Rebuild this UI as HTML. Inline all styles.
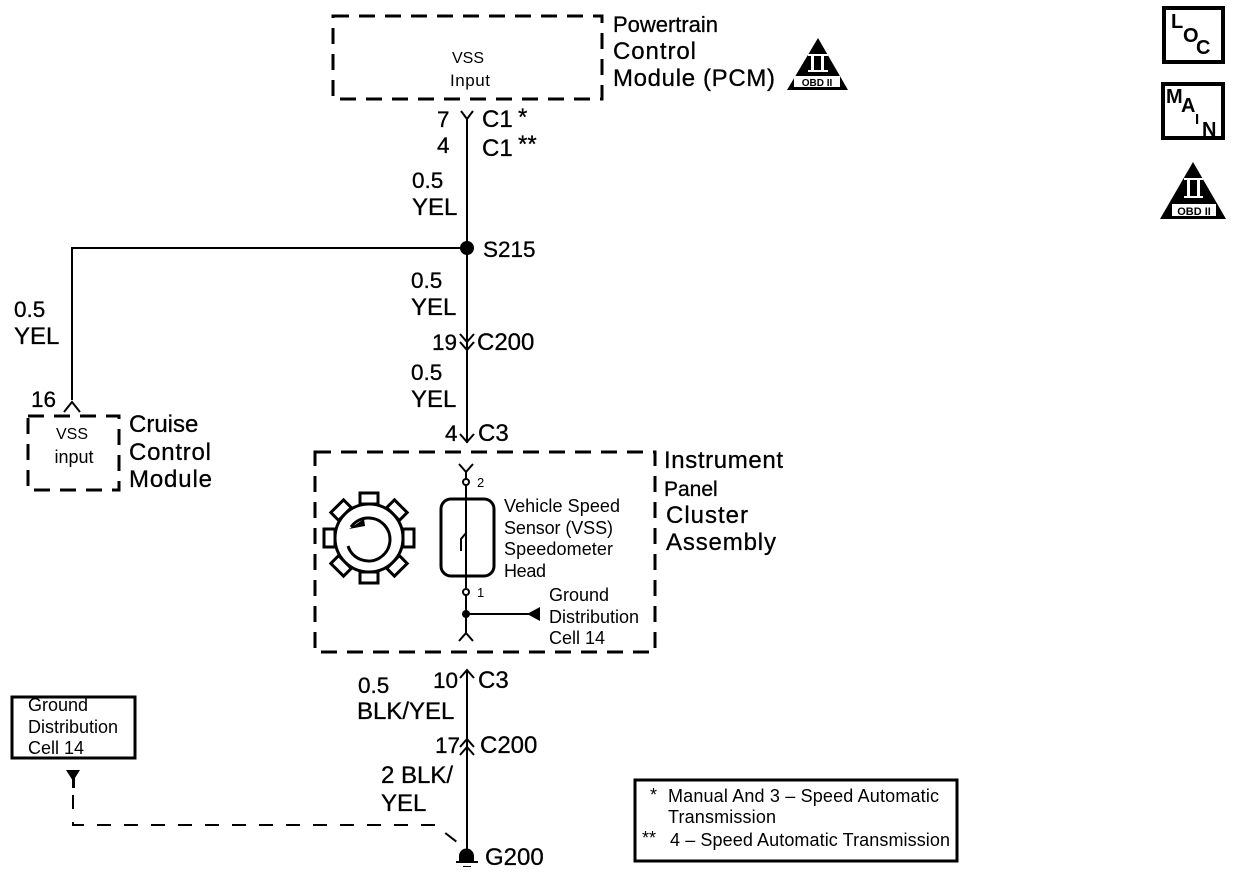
<!DOCTYPE html>
<html lang="en">
<head>
<meta charset="utf-8">
<title>Vehicle speed sensor wiring diagram</title>
<style>
html,body{margin:0;padding:0;background:#fff;width:1248px;height:878px;overflow:hidden}
svg{display:block}
text{font-family:"Liberation Sans",sans-serif;fill:#000}
.l{font-size:24px;stroke:#000;stroke-width:.3}
.n{font-size:22.5px;stroke:#000;stroke-width:.3}
.s{font-size:18px}
.w{stroke:#000;stroke-width:2;fill:none}
.d{stroke:#000;stroke-width:3;fill:none;stroke-dasharray:16 10}
</style>
</head>
<body>
<svg width="1248" height="878" viewBox="0 0 1248 878" xmlns="http://www.w3.org/2000/svg">
<rect x="333" y="16" width="269" height="83" class="d"/>
<text x="468" y="63" text-anchor="middle" font-size="16">VSS</text>
<text x="470" y="86" text-anchor="middle" font-size="17" textLength="40">Input</text>
<text x="613" y="32" class="l" style="font-size:22px" textLength="105">Powertrain</text>
<text x="613" y="59" class="l" textLength="83">Control</text>
<text x="613" y="86" class="l" textLength="162">Module (PCM)</text>
<path d="M818 38L787 90H848Z" fill="#000"/>
<rect x="808" y="54" width="20" height="2" fill="#fff"/><rect x="808" y="70" width="20" height="2" fill="#fff"/>
<rect x="811" y="56" width="3" height="14" fill="#fff"/><rect x="821" y="56" width="3" height="14" fill="#fff"/>
<rect x="794" y="76" width="46" height="11" fill="#fff"/>
<text x="817" y="86" text-anchor="middle" font-size="10" font-weight="bold">OBD II</text>
<rect x="1164" y="8" width="59" height="54" fill="none" stroke="#000" stroke-width="4"/>
<text x="1171" y="28" font-size="20" font-weight="bold">L</text><text x="1183" y="42" font-size="20" font-weight="bold">O</text><text x="1196" y="54" font-size="20" font-weight="bold">C</text>
<rect x="1163" y="84" width="60" height="54" fill="none" stroke="#000" stroke-width="4"/>
<text x="1166" y="103" font-size="20" font-weight="bold">M</text><text x="1181" y="112" font-size="20" font-weight="bold">A</text><text x="1195" y="124" font-size="15" font-weight="bold">I</text><text x="1202" y="136" font-size="20" font-weight="bold">N</text>
<path d="M1193 162L1160 219H1226Z" fill="#000"/>
<rect x="1184" y="178" width="19" height="2" fill="#fff"/><rect x="1184" y="196" width="19" height="2" fill="#fff"/>
<rect x="1187" y="180" width="3" height="16" fill="#fff"/><rect x="1197" y="180" width="3" height="16" fill="#fff"/>
<rect x="1172" y="204" width="44" height="12" fill="#fff"/>
<text x="1194" y="215" text-anchor="middle" font-size="11" font-weight="bold">OBD II</text>
<path class="w" d="M461 111L467 119L473 111M467 119V248"/>
<text x="437" y="127" class="n">7</text><text x="482" y="127" class="l">C1</text><text x="518" y="125" class="l">*</text>
<text x="437" y="153" class="n">4</text><text x="482" y="156" class="l">C1</text><text x="518" y="152" class="l">**</text>
<text x="412" y="188" class="n">0.5</text><text x="412" y="215" class="l">YEL</text>
<circle cx="467" cy="248" r="7" fill="#000"/>
<text x="483" y="257" class="n">S215</text>
<path class="w" d="M467 248H72V400M64 412L72 402L80 412"/>
<text x="14" y="317" class="n">0.5</text><text x="14" y="344" class="l">YEL</text>
<text x="31" y="407" class="n">16</text>
<rect x="28" y="416" width="91" height="74" class="d"/>
<text x="72" y="439" text-anchor="middle" font-size="16">VSS</text>
<text x="74" y="463" text-anchor="middle" font-size="18">input</text>
<text x="129" y="432" class="l">Cruise</text><text x="129" y="460" class="l" textLength="82">Control</text><text x="129" y="487" class="l" textLength="83">Module</text>
<path class="w" d="M467 248V443M460 334L467 342L474 334M460 342L467 350L474 342M460 434L467 442L474 434"/>
<text x="411" y="288" class="n">0.5</text><text x="411" y="315" class="l">YEL</text>
<text x="432" y="350" class="n">19</text><text x="477" y="350" class="l">C200</text>
<text x="411" y="380" class="n">0.5</text><text x="411" y="407" class="l">YEL</text>
<text x="445" y="441" class="n">4</text><text x="478" y="441" class="l">C3</text>
<rect x="315" y="452" width="340" height="200" class="d"/>
<text x="664" y="468" class="l" textLength="119">Instrument</text><text x="664" y="496" class="l" style="font-size:21px">Panel</text>
<text x="666" y="523" class="l" textLength="82">Cluster</text><text x="666" y="550" class="l" textLength="110">Assembly</text>
<path class="w" d="M459 464L466 472L473 464M466 472V479M466 485V588M466 595V634M459 641L466 633L473 641"/>
<circle cx="466" cy="482" r="3" fill="#fff" stroke="#000" stroke-width="2"/>
<circle cx="466" cy="592" r="3" fill="#fff" stroke="#000" stroke-width="2"/>
<text x="477" y="487" font-size="13">2</text><text x="477" y="597" font-size="13">1</text>
<rect x="441" y="499" width="53" height="77" rx="10" fill="none" stroke="#000" stroke-width="3"/>
<path class="w" d="M461 551V539L466 533"/>
<circle cx="466" cy="614" r="4" fill="#000"/>
<path class="w" d="M466 614H530"/><path d="M527 614L540 607V621Z" fill="#000"/>
<text x="504" y="512" class="s" textLength="116">Vehicle Speed</text>
<text x="504" y="534" class="s" textLength="109">Sensor (VSS)</text>
<text x="504" y="555" class="s" textLength="109">Speedometer</text>
<text x="504" y="577" class="s" textLength="42">Head</text>
<text x="549" y="601" class="s" textLength="60">Ground</text>
<text x="549" y="623" class="s" textLength="90">Distribution</text>
<text x="549" y="644" class="s">Cell 14</text>
<g fill="#fff" stroke="#000" stroke-width="3">
<rect x="360" y="493" width="18" height="11"/>
<rect x="360" y="493" width="18" height="11" transform="rotate(45 369 538)"/>
<rect x="360" y="493" width="18" height="11" transform="rotate(90 369 538)"/>
<rect x="360" y="493" width="18" height="11" transform="rotate(135 369 538)"/>
<rect x="360" y="493" width="18" height="11" transform="rotate(180 369 538)"/>
<rect x="360" y="493" width="18" height="11" transform="rotate(225 369 538)"/>
<rect x="360" y="493" width="18" height="11" transform="rotate(270 369 538)"/>
<rect x="360" y="493" width="18" height="11" transform="rotate(315 369 538)"/>
<circle cx="369" cy="538" r="34"/>
</g>
<path d="M351 527A21.5 21.5 0 1 1 348 546" fill="none" stroke="#000" stroke-width="3"/>
<path d="M349 529L364 519L365 526Z" fill="#000"/>
<path class="w" d="M467 670V852M460 678L467 670L474 678M460 747L467 739L474 747M460 755L467 747L474 755"/>
<text x="358" y="693" class="n">0.5</text><text x="357" y="719" class="l">BLK/YEL</text>
<text x="433" y="688" class="n">10</text><text x="478" y="688" class="l">C3</text>
<text x="435" y="753" class="n">17</text><text x="480" y="753" class="l">C200</text>
<text x="381" y="783" class="l">2 BLK/</text><text x="381" y="811" class="l">YEL</text>
<path d="M459 861V856A7.5 7.5 0 0 1 474 856V861Z" fill="#000"/>
<rect x="456" y="861" width="22" height="2" fill="#000"/>
<rect x="463" y="866" width="8" height="1" fill="#000"/>
<text x="485" y="865" class="l">G200</text>
<rect x="12" y="697" width="123" height="61" fill="none" stroke="#000" stroke-width="3"/>
<text x="28" y="711" class="s" textLength="60">Ground</text>
<text x="28" y="733" class="s" textLength="90">Distribution</text>
<text x="28" y="754" class="s">Cell 14</text>
<path d="M66 770H80L73 781Z" fill="#000"/>
<rect x="72" y="778" width="3" height="10" fill="#000"/>
<path d="M73 795V825H435L462 846" fill="none" stroke="#000" stroke-width="2" stroke-dasharray="14 13"/>
<rect x="635" y="780" width="322" height="81" fill="none" stroke="#000" stroke-width="3"/>
<text x="650" y="801" class="s">*</text>
<text x="668" y="802" class="s" textLength="271">Manual And 3 – Speed Automatic</text>
<text x="668" y="823" class="s" textLength="108">Transmission</text>
<text x="642" y="844" class="s">**</text>
<text x="670" y="846" class="s" textLength="280">4 – Speed Automatic Transmission</text>
</svg>
</body>
</html>
